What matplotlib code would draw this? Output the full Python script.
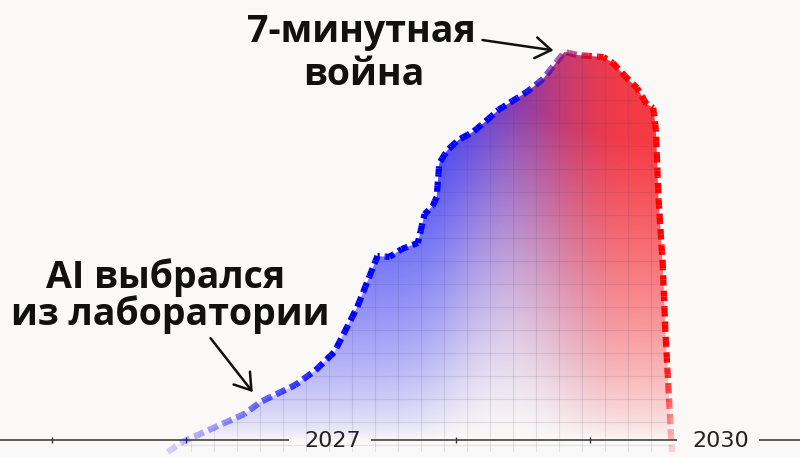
import numpy as np
import matplotlib.pyplot as plt
from matplotlib.patches import Polygon
from matplotlib.colors import to_rgb

# curve: x in years, y in arbitrary units (peak = 100)
years = [2025.86, 2025.97, 2026.43, 2026.55, 2026.81, 2026.96, 2027.10, 2027.27,
         2027.42, 2027.51, 2027.60, 2027.72, 2027.77, 2027.83, 2027.86, 2027.88,
         2027.94, 2028.02, 2028.13, 2028.22, 2028.32, 2028.53, 2028.65, 2028.81,
         2028.91, 2029.10, 2029.17, 2029.26, 2029.35, 2029.42, 2029.47, 2029.49,
         2029.51, 2029.54, 2029.56, 2029.58, 2029.60, 2029.61]
values = [-3.1, -0.5, 6.7, 9.8, 14.2, 18.0, 22.7, 34.3,
          47.4, 47.2, 49.2, 50.8, 58.2, 60.3, 62.6, 71.4,
          74.7, 77.3, 79.4, 82.0, 85.1, 89.7, 93.0, 100.0,
          99.2, 98.7, 97.2, 93.8, 90.7, 86.6, 85.6, 79.9,
          61.9, 45.6, 28.4, 15.5, 2.6, -3.1]

tick_years = [2025, 2026, 2028, 2029]
label_years = [2027, 2030]

peak_text = ['7-минутная', 'война']
escape_text = ['AI выбрался', 'из лаборатории']
escape_point = (2026.55, 9.8)
peak_point = (2028.81, 100.0)

BG = '#fbf9f7'
LINE_BLUE = np.array(to_rgb('#0000ff'))
LINE_RED = np.array(to_rgb('#ff0000'))
FILL_BLUE = np.array(to_rgb('#2626f5'))
FILL_RED = np.array(to_rgb('#f51f2a'))

plt.rcParams['lines.scale_dashes'] = False

W, H = 800, 457
fig = plt.figure(figsize=(W / 100, H / 100), dpi=100, facecolor=BG)
ax = fig.add_axes([0, 0, 1, 1])
ax.set_facecolor(BG)
xlim = (2024.6134, 2030.5613)
ylim = (-4.38, 113.40)
ax.set_xlim(*xlim)
ax.set_ylim(*ylim)

# shape under the curve
pts = np.column_stack([years, values])
poly = Polygon(pts, closed=True, fc='none', ec='none')
ax.add_patch(poly)

# gradient fill: blue -> red horizontally, fading to the baseline
PX, PY = np.meshgrid(np.arange(W) + 0.5, np.arange(H) + 0.5)
hh = np.clip((440 - PY) / 388, 0, 1)
t = np.clip((PX - 420) / 220, 0, 1)
t = t * t * (3 - 2 * t)
pw = 0.7 + 0.5 * np.exp(-((PX - 505) / 60) ** 2)
alpha = np.clip(1.05 * hh ** pw, 0, 0.88)
rgb = (1 - t)[..., None] * FILL_BLUE + t[..., None] * FILL_RED
img = np.dstack([rgb, alpha])
im = ax.imshow(img, extent=(xlim[0], xlim[1], ylim[0], ylim[1]), origin='upper',
               aspect='auto', interpolation='bilinear', zorder=1)
im.set_clip_path(poly)

# grid, only visible inside the filled area
gx = np.arange(2027.572 - 20 * 0.171, xlim[1], 0.171)
gy = np.arange(4.64 - 5.928, ylim[1], 5.928)
vl = ax.vlines(gx, ylim[0], ylim[1], color='#3a3a66', lw=0.8, alpha=0.12, zorder=1.5)
hl = ax.hlines(gy, xlim[0], xlim[1], color='#3a3a66', lw=0.8, alpha=0.12, zorder=1.5)
vl.set_clip_path(poly)
hl.set_clip_path(poly)

# dashed outline, coloured piece by piece with a continuous dash pattern
disp = ax.transData.transform(pts)
on, off = 7.5, 3.6
run = 0.0
for i in range(len(pts) - 1):
    a, b = disp[i], disp[i + 1]
    seg = np.hypot(*(b - a))
    n = max(1, int(np.ceil(seg / 6)))
    for k in range(n):
        p0 = a + (b - a) * k / n
        p1 = a + (b - a) * (k + 1) / n
        mx, my = (p0 + p1) / 2
        sx, sy = mx, H - my
        tl = np.clip((sx - 515) / 95, 0, 1)
        tl = tl * tl * (3 - 2 * tl)
        col = (1 - tl) * LINE_BLUE + tl * LINE_RED
        al = np.clip(0.25 + (440 - sy) / 110, 0.12, 1)
        al *= 1 - 0.4 * np.exp(-((sx - 560) / 28) ** 2)
        d0 = ax.transData.inverted().transform([p0, p1])
        ax.plot(d0[:, 0], d0[:, 1], color=col, alpha=al, lw=4.5,
                linestyle=((run * 0.72) % (on + off), (on, off)),
                dash_capstyle='butt', zorder=3)
        run += seg / n

# axis: line broken around the two year labels
for s in ax.spines:
    ax.spines[s].set_visible(False)
ax.spines['bottom'].set_position(('data', 0))
ax.set_xticks(tick_years)
ax.set_yticks([])
ax.tick_params(axis='x', direction='inout', length=5, width=1, color='#333333',
               labelbottom=False)

labels = []
for yr, dx in zip(label_years, [8.5, -3]):
    labels.append(ax.annotate(str(yr), xy=(yr, 0), xytext=(dx, -1), textcoords='offset points',
                              ha='center', va='center', fontsize=16, color='#222222',
                              family='DejaVu Sans', zorder=5))
fig.canvas.draw()
inv = ax.transData.inverted()
edges = [xlim[0]]
for lb in labels:
    bb = lb.get_window_extent()
    edges += [inv.transform((bb.x0 - 15, 0))[0], inv.transform((bb.x1 + 10, 0))[0]]
edges.append(xlim[1])
for x0, x1 in zip(edges[::2], edges[1::2]):
    ax.hlines(0, x0, x1, color='#333333', lw=1.1, zorder=2.5)

# annotations
font = dict(family=['Open Sans', 'DejaVu Sans'], fontweight='bold', fontsize=27,
            color='#111111', ha='center', va='baseline', transform=fig.transFigure)
fig.text(361 / W, 1 - 42 / H, peak_text[0], **font)
fig.text(364 / W, 1 - 85 / H, peak_text[1], **font)
fig.text(166 / W, 1 - 288 / H, escape_text[0], **font)
fig.text(170 / W, 1 - 325 / H, escape_text[1], **font)

arrow = dict(arrowstyle='->,head_length=0.45,head_width=0.3', color='#111111',
             lw=1.8, mutation_scale=25, shrinkA=0)
ax.annotate('', xy=peak_point, xytext=(-59, 8.6), textcoords='offset points',
            arrowprops=dict(shrinkB=8, **arrow), zorder=6)
ax.annotate('', xy=escape_point, xytext=(-36, 46), textcoords='offset points',
            arrowprops=dict(shrinkB=9, **arrow), zorder=6)

fig.savefig('out.png', dpi=100, facecolor=BG)
